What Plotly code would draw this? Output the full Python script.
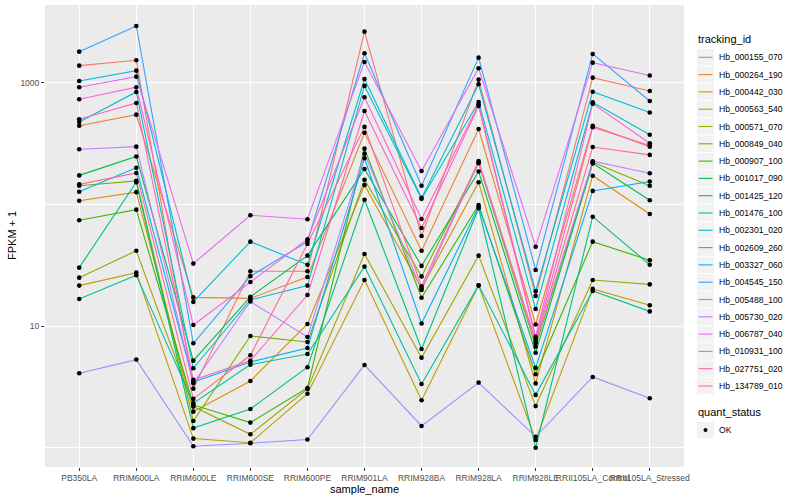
import plotly.graph_objects as go

samples = ["PB350LA", "RRIM600LA", "RRIM600LE", "RRIM600SE", "RRIM600PE", "RRIM901LA",
           "RRIM928BA", "RRIM928LA", "RRIM928LE", "RRII105LA_Control", "RRII105LA_Stressed"]

tracking_ids = ["Hb_000155_070", "Hb_000264_190", "Hb_000442_030", "Hb_000563_540", "Hb_000571_070",
                "Hb_000849_040", "Hb_000907_100", "Hb_001017_090", "Hb_001425_120", "Hb_001476_100",
                "Hb_002301_020", "Hb_002609_260", "Hb_003327_060", "Hb_004545_150", "Hb_005488_100",
                "Hb_005730_020", "Hb_006787_040", "Hb_010931_100", "Hb_027751_020", "Hb_134789_010"]

colors = ["#F8766D", "#EA8331", "#D89000", "#C09B00", "#A3A500", "#7CAE00", "#39B600", "#00BB4E",
          "#00BF7D", "#00C1A3", "#00BFC4", "#00BAE0", "#00B0F6", "#35A2FF", "#9590FF", "#C77CFF",
          "#E76BF3", "#FA62DB", "#FF62BC", "#FF6C91"]

quant_status = ["OK"]

# FPKM + 1 values, one list per gene, in sample order
Hb_000155_070 = [1379, 1528, 3.06, 28.2, 28.2, 2624, 55.0, 1059, 17.7, 1099, 855]
Hb_000264_190 = [443, 546, 17.2, 16.9, 25.3, 388, 41.6, 416, 10.3, 441, 298]
Hb_000442_030 = [107, 126, 1.98, 3.54, 10.4, 144, 20.4, 152, 3.38, 172, 83.4]
Hb_000563_540 = [21.5, 27.5, 1.19, 1.10, 2.78, 23.9, 2.46, 21.5, 1.16, 20.2, 14.8]
Hb_000571_070 = [25.0, 41.6, 2.18, 1.29, 3.04, 39.1, 5.50, 37.9, 2.20, 23.9, 22.0]
Hb_000849_040 = [142, 156, 1.66, 8.29, 7.40, 159, 25.6, 218, 6.77, 222, 142]
Hb_000907_100 = [74.0, 90.5, 2.25, 1.61, 3.10, 287, 17.1, 98.9, 4.02, 49.4, 34.7]
Hb_001017_090 = [173, 247, 5.20, 17.4, 37.9, 195, 31.2, 186, 6.04, 217, 108]
Hb_001425_120 = [30.2, 152, 1.45, 2.08, 4.59, 109, 6.48, 92.9, 1.00, 79.2, 31.9]
Hb_001476_100 = [16.7, 26.2, 2.32, 4.82, 5.90, 30.8, 3.34, 21.6, 2.72, 19.4, 13.2]
Hb_002301_020 = [475, 839, 4.50, 16.4, 21.5, 940, 111, 694, 13.8, 690, 373]
Hb_002609_260 = [1033, 1255, 15.8, 49.4, 31.9, 1072, 113, 970, 19.3, 843, 569]
Hb_003327_060 = [127, 200, 3.47, 5.07, 6.61, 239, 10.5, 95.7, 4.53, 129, 154]
Hb_004545_150 = [1797, 2923, 7.22, 25.7, 49.4, 1744, 142, 1605, 28.9, 1721, 707]
Hb_005488_100 = [4.09, 5.30, 1.03, 1.09, 1.17, 4.79, 1.51, 3.43, 1.23, 3.82, 2.55]
Hb_005730_020 = [284, 298, 3.39, 15.9, 8.14, 261, 19.8, 222, 7.22, 226, 180]
Hb_006787_040 = [917, 1120, 32.6, 81.4, 75.4, 1480, 188, 1313, 44.9, 1460, 1146]
Hb_010931_100 = [730, 917, 10.2, 23.0, 51.7, 759, 75.9, 664, 8.18, 672, 318]
Hb_027751_020 = [500, 681, 3.61, 5.20, 18.0, 585, 64.0, 643, 7.83, 430, 305]
Hb_134789_010 = [146, 181, 2.52, 5.75, 47.3, 433, 21.2, 227, 7.54, 296, 255]

series = [Hb_000155_070, Hb_000264_190, Hb_000442_030, Hb_000563_540, Hb_000571_070,
          Hb_000849_040, Hb_000907_100, Hb_001017_090, Hb_001425_120, Hb_001476_100,
          Hb_002301_020, Hb_002609_260, Hb_003327_060, Hb_004545_150, Hb_005488_100,
          Hb_005730_020, Hb_006787_040, Hb_010931_100, Hb_027751_020, Hb_134789_010]

W, H = 800, 500
ML, MR, MT, MB = 45, 116, 5, 33
PW, PH = W - ML - MR, H - MT - MB


def px(x):
    return (x - ML) / PW


def py(y):
    return (H - MB - y) / PH


fig = go.Figure()
for name, vals, col in zip(tracking_ids, series, colors):
    fig.add_trace(go.Scatter(x=samples, y=vals, mode="lines", name=name,
                             line=dict(color=col, width=1.1), showlegend=False))

all_x = [s for vals in series for s in samples]
all_y = [v for vals in series for v in vals]
fig.add_trace(go.Scatter(x=all_x, y=all_y, mode="markers", name=quant_status[0],
                         marker=dict(color="black", size=4.6), showlegend=False))

font = "Liberation Sans, Arial, sans-serif"
shapes = []
annotations = []

# axis titles
annotations.append(dict(text="sample_name", x=px(364.5), y=py(489), xref="paper", yref="paper",
                        showarrow=False, font=dict(size=11, color="black"),
                        xanchor="center", yanchor="middle"))
annotations.append(dict(text="FPKM + 1", x=px(12), y=py(236), xref="paper", yref="paper",
                        showarrow=False, font=dict(size=11, color="black"), textangle=-90,
                        xanchor="center", yanchor="middle"))

# legend: tracking_id
annotations.append(dict(text="tracking_id", x=px(696), y=py(39), xref="paper", yref="paper",
                        showarrow=False, font=dict(size=11, color="black"),
                        xanchor="left", yanchor="middle"))
step = 17.3
y0 = 57.3
for i, (name, col) in enumerate(zip(tracking_ids, colors)):
    cy = y0 + i * step
    shapes.append(dict(type="rect", xref="paper", yref="paper",
                       x0=px(697), x1=px(714), y0=py(cy - 8.2), y1=py(cy + 8.2),
                       fillcolor="#F2F2F2", line=dict(width=0), layer="above"))
    shapes.append(dict(type="line", xref="paper", yref="paper",
                       x0=px(698.5), x1=px(712.5), y0=py(cy), y1=py(cy),
                       line=dict(color=col, width=1.1), layer="above"))
    annotations.append(dict(text=name, x=px(717), y=py(cy), xref="paper", yref="paper",
                            showarrow=False, font=dict(size=8.6, color="black"),
                            xanchor="left", yanchor="middle"))

# legend: quant_status
annotations.append(dict(text="quant_status", x=px(696), y=py(412), xref="paper", yref="paper",
                        showarrow=False, font=dict(size=11, color="black"),
                        xanchor="left", yanchor="middle"))
cy = 430
shapes.append(dict(type="rect", xref="paper", yref="paper",
                   x0=px(697), x1=px(714), y0=py(cy - 8.2), y1=py(cy + 8.2),
                   fillcolor="#F2F2F2", line=dict(width=0), layer="above"))
shapes.append(dict(type="circle", xref="paper", yref="paper",
                   x0=px(703.5), x1=px(707.5), y0=py(cy - 2), y1=py(cy + 2),
                   fillcolor="black", line=dict(width=0), layer="above"))
annotations.append(dict(text=quant_status[0], x=px(717), y=py(cy), xref="paper", yref="paper",
                        showarrow=False, font=dict(size=8.6, color="black"),
                        xanchor="left", yanchor="middle"))

fig.update_layout(
    width=W, height=H,
    paper_bgcolor="white", plot_bgcolor="#EBEBEB",
    margin=dict(l=ML, r=MR, t=MT, b=MB),
    font=dict(family=font, size=9, color="#4D4D4D"),
    showlegend=False,
    xaxis=dict(
        type="category", range=[-0.6, 10.6], tickangle=0, automargin=False,
        showgrid=True, gridcolor="white", gridwidth=1.1,
        ticks="outside", ticklen=3, tickcolor="#333333", tickwidth=1,
        tickfont=dict(size=8.5, color="#4D4D4D"),
        zeroline=False, showline=False,
    ),
    yaxis=dict(
        type="log", range=[-0.158, 3.638], automargin=False,
        tickvals=[10, 1000], ticktext=["10", "1000"],
        showgrid=True, gridcolor="white", gridwidth=1.1,
        minor=dict(tickvals=[1, 100], showgrid=True, gridcolor="white", gridwidth=0.55, ticks=""),
        ticks="outside", ticklen=3, tickcolor="#333333", tickwidth=1,
        tickfont=dict(size=8.5, color="#4D4D4D"),
        zeroline=False, showline=False,
    ),
    shapes=shapes,
    annotations=annotations,
)

fig.write_html("out.html", config=dict(displayModeBar=False),
               post_script="document.body.style.margin='0';document.body.style.overflow='hidden';")
